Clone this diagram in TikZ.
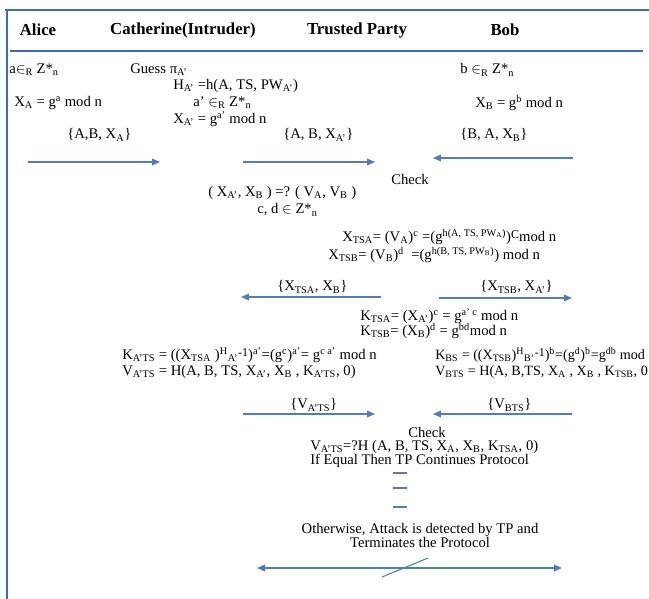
\documentclass[tikz,border=0pt]{standalone}
\usepackage{fontspec}
\setmainfont{Liberation Serif}
\usetikzlibrary{arrows.meta}
\definecolor{frameblue}{RGB}{62,108,176}
\definecolor{msgblue}{RGB}{79,125,190}
\newcommand\sub[1]{\textsubscript{#1}}
\newcommand\pow[1]{\textsuperscript{#1}}
\begin{document}
\begin{tikzpicture}[x=0.75pt,y=-0.75pt,
  frame/.style={frameblue,line width=2.2pt},
  msg/.style={msgblue,line width=1pt,-{Triangle[length=6pt,width=5pt]}},
  txt/.style={anchor=west,inner sep=0pt,font=\fontsize{11}{12}\selectfont},
  ctxt/.style={inner sep=0pt,font=\fontsize{11}{12}\selectfont},
  head/.style={inner sep=0pt,font=\fontsize{12.6}{14}\selectfont\bfseries}]
\useasboundingbox (0,0) rectangle (649,599);
\node[head] (alice) at (38,30) {Alice};
\node[head] (cath) at (183,30) {Catherine(Intruder)};
\node[head] (tp) at (357,30) {Trusted Party};
\node[head] (bob) at (505,30) {Bob};
\node[txt] (ra) at (9,70) {a$\in$\sub{R} Z*\sub{n}};
\node[txt] (guess) at (130,70) {Guess π\sub{A’}};
\node[txt] (ha) at (173,85.5) {H\sub{A’} =h(A, TS, PW\sub{A’})};
\node[txt] (rap) at (193,102.5) {a’ $\in$\sub{R} Z*\sub{n}};
\node[txt] (xap) at (173,119) {X\sub{A’} = g\pow{a’} mod n};
\node[txt] (xa) at (14,103) {X\sub{A} = g\pow{a} mod n};
\node[txt] (m1) at (67,135) {\{A,B, X\sub{A}\}};
\node[txt] (m2) at (283,135) {\{A, B, X\sub{A’}\}};
\node[txt] (rb) at (460,70) {b $\in$\sub{R} Z*\sub{n}};
\node[txt] (xb) at (475,103) {X\sub{B} = g\pow{b} mod n};
\node[txt] (m3) at (460,135) {\{B, A, X\sub{B}\}};
\node[ctxt] (check1) at (410,179) {Check};
\node[txt] (cmp) at (208,193) {( X\sub{A’}, X\sub{B} ) =? ( V\sub{A}, V\sub{B} )};
\node[txt] (cd) at (257,210) {c, d $\in$ Z*\sub{n}};
\node[txt] (xtsa) at (342,237) {X\sub{TSA}= (V\sub{A})\pow{c} =(g\pow{h(A, TS, PW\sub{A})})\raisebox{2pt}{\small C}mod n};
\node[txt] (xtsb) at (328,255) {X\sub{TSB}= (V\sub{B})\pow{d}\ \ =(g\pow{h(B, TS, PW\sub{B})}) mod n};
\node[txt] (m4) at (277,287) {\{X\sub{TSA}, X\sub{B}\}};
\node[txt] (m5) at (480,287) {\{X\sub{TSB}, X\sub{A’}\}};
\node[txt] (ktsa) at (360,316) {K\sub{TSA}= (X\sub{A’})\pow{c} = g\pow{a’ c} mod n};
\node[txt] (ktsb) at (360,331) {K\sub{TSB}= (X\sub{B})\pow{d} = g\pow{bd}mod n};
\node[txt] (kats) at (122,355) {K\sub{A’TS} = ((X\sub{TSA} )\pow{H}\sub{A’}\raisebox{2pt}{\small -1})\pow{a’}=(g\pow{c})\pow{a’}=\ g\pow{c a’} mod n};
\node[txt] (vats) at (122,372) {V\sub{A’TS} = H(A,\ B,\ TS,\ X\sub{A’},\ X\sub{B} ,\ K\sub{A’TS}, 0)};
\node[txt,font=\fontsize{10.6}{12}\selectfont] (kbs) at (435,355) {K\sub{BS} = ((X\sub{TSB})\pow{H}\sub{B’}\raisebox{2pt}{\small -1})\pow{b}=(g\pow{d})\pow{b}=g\pow{db} mod};
\node[txt,font=\fontsize{10.6}{12}\selectfont] (vbts) at (435,372) {V\sub{BTS} = H(A, B,TS, X\sub{A} , X\sub{B} , K\sub{TSB}, 0};
\node[txt] (m6) at (290,405) {\{V\sub{A’TS}\}};
\node[txt] (m7) at (487,405) {\{V\sub{BTS}\}};
\node[ctxt] (check2) at (427,432) {Check};
\node[txt] (veq) at (310,447) {V\sub{A’TS}=?H (A, B, TS, X\sub{A}, X\sub{B},\ K\sub{TSA}, 0)};
\node[txt] (cont) at (310,461) {If Equal Then TP Continues Protocol};
\node[ctxt,align=center,font=\fontsize{11}{10.5}\selectfont] (other) at (420,535) {Otherwise, Attack is detected by TP and\\Terminates the Protocol};
\coordinate (a1s) at (28,162); \coordinate (a1e) at (160,162);
\coordinate (a2s) at (243,162); \coordinate (a2e) at (375,162);
\coordinate (a3s) at (573,158); \coordinate (a3e) at (433,158);
\coordinate (a4s) at (381,297); \coordinate (a4e) at (241,297);
\coordinate (a5s) at (439,298); \coordinate (a5e) at (572,298);
\coordinate (a6s) at (243,414); \coordinate (a6e) at (375,414);
\coordinate (a7s) at (572,414); \coordinate (a7e) at (433,414);
\coordinate (a8s) at (257,568); \coordinate (a8e) at (562,568);
\draw[msg] (a1s) -- (a1e);
\draw[msg] (a2s) -- (a2e);
\draw[msg] (a3s) -- (a3e);
\draw[msg] (a4s) -- (a4e);
\draw[msg] (a5s) -- (a5e);
\draw[msg] (a6s) -- (a6e);
\draw[msg] (a7s) -- (a7e);
\draw[msg,{Triangle[length=6pt,width=5pt]}-{Triangle[length=6pt,width=5pt]}] (a8s) -- (a8e);
\draw[msgblue,line width=0.8pt] (382,577) -- (428,558);
\foreach \y in {473,488,507}
  \draw[msgblue,line width=1pt] (393,\y) -- (407,\y);
\draw[frame] (5,10) -- (649,10);
\draw[frame] (7,10) -- (7,599);
\draw[frame] (10,51) -- (643,51);
\end{tikzpicture}
\end{document}
